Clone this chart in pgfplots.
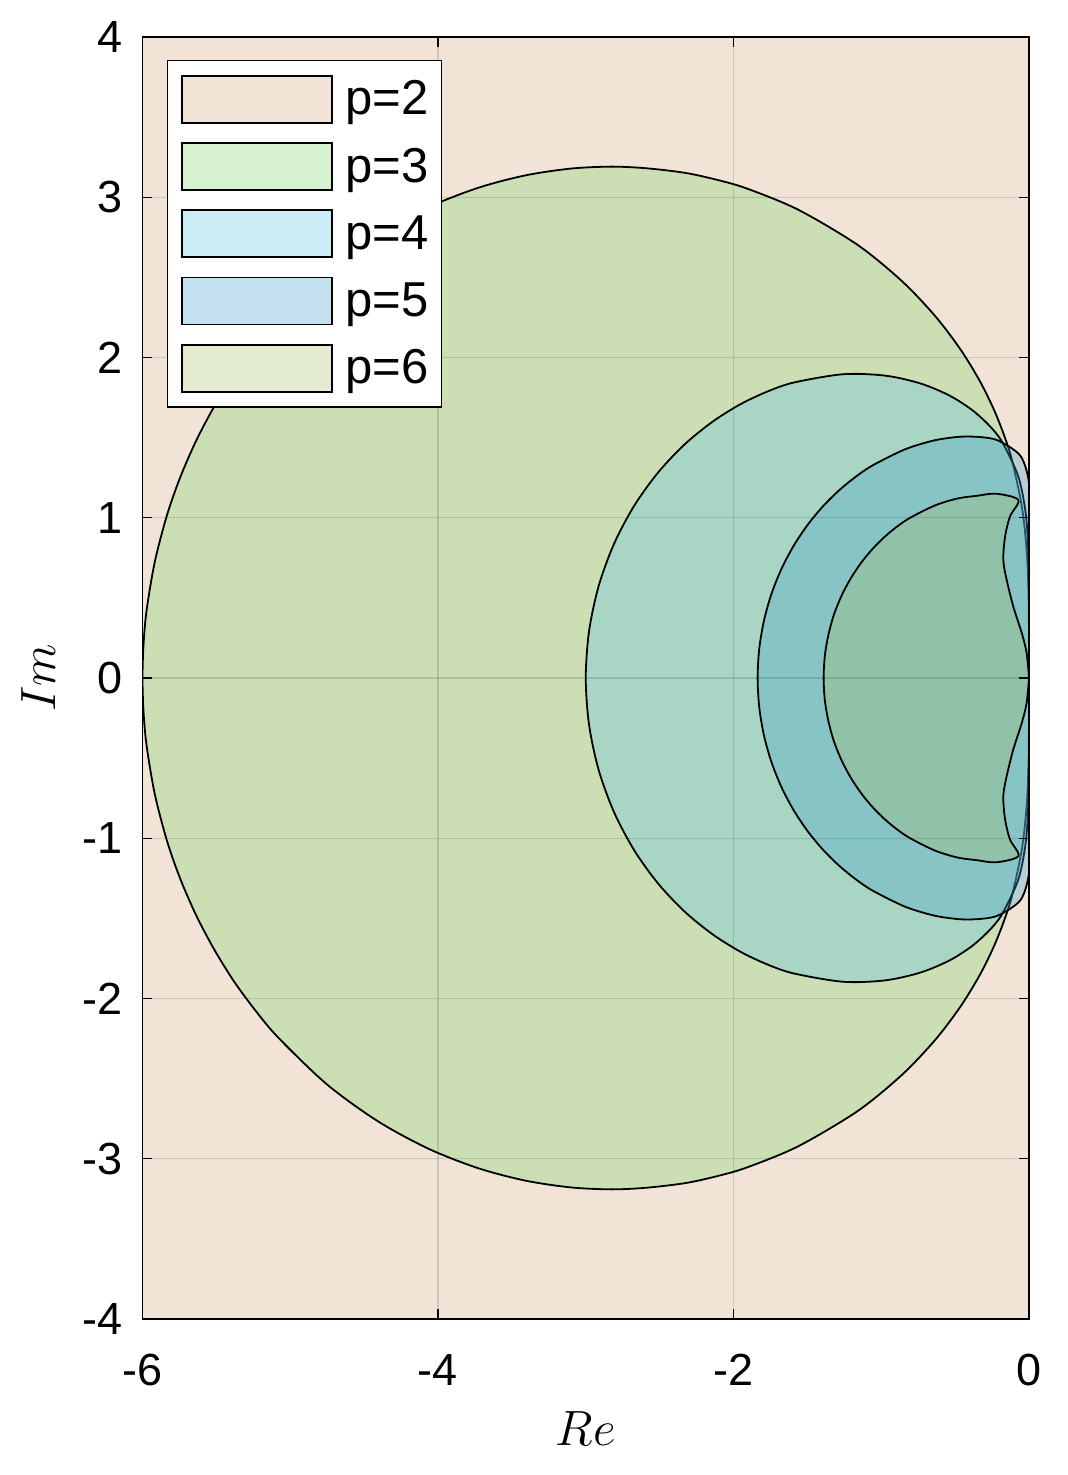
\documentclass[border=0pt]{standalone}
\usepackage{fontspec}
\setmainfont{Liberation Sans}
\usepackage{pgfplots}
\pgfplotsset{compat=1.18}
\definecolor{c2}{RGB}{241,228,215}
\definecolor{c3}{RGB}{121,210,101}
\definecolor{c4}{RGB}{88,195,233}
\definecolor{c5}{RGB}{60,158,205}
\definecolor{c6}{RGB}{165,190,105}
\begin{document}
\begin{tikzpicture}
\useasboundingbox (-71.25bp,-78bp) rectangle (462.75bp,659.5bp);
\begin{axis}[
  at={(0,0)}, anchor=south west,
  width=443.25bp, height=641bp, scale only axis,
  xmin=-6, xmax=0, ymin=-4, ymax=4,
  xtick={-6,-4,-2,0}, xticklabels={-6,-4,-2,0},
  ytick={-4,-3,-2,-1,0,1,2,3,4}, yticklabels={-4,-3,-2,-1,0,1,2,3,4},
  tick align=inside, major tick length=5bp,
  tick style={black, line width=0.6bp},
  grid=major, grid style={black, opacity=0.13, line width=0.6bp},
  axis on top,
  axis line style={black, line width=0.9bp},
  ticklabel style={font=\fontsize{22.5bp}{27bp}\selectfont},
  xticklabel style={anchor=north, inner sep=0pt, yshift=-17.5bp},
  yticklabel style={anchor=east, inner sep=0pt, xshift=-10bp},
  xlabel={$Re$}, ylabel={$Im$},
  label style={font=\fontsize{25bp}{30bp}\selectfont},
  xlabel style={at={(axis description cs:0.5,0)}, anchor=base, yshift=-63bp},
  ylabel style={at={(axis description cs:-0.0987,0.5)}, anchor=base},
  legend image code/.code={\draw[#1] (0bp,-11.75bp) rectangle (75bp,11.75bp);},
  legend cell align=left,
  legend style={at={(axis description cs:0,1)}, xshift=12.25bp, yshift=-11.5bp,
    anchor=north west, draw=black, line width=0.75bp, fill=white,
    inner xsep=6.5bp, inner ysep=7bp, row sep=9.25bp,
    font=\fontsize{24.5bp}{29bp}\selectfont,
    nodes={inner sep=0pt},
    /tikz/every odd column/.append style={column sep=6.5bp}},
]
% p = 2 : whole left half plane
\addplot[draw=black, line width=0.9bp, fill=c2] coordinates {(-6,-4) (0,-4) (0,4) (-6,4) (-6,-4)};
% p = 3
\addplot[draw=black, line width=0.9bp, fill=c3, fill opacity=0.3, smooth] coordinates {
(0,0) (-0.0002,0.2618) (-0.0031,0.5242) (-0.0152,0.7896) (-0.0472,1.0638) (-0.1144,1.3563) (-0.1680,1.5133) (-0.24,1.68) (-0.3360,1.8583) (-0.4633,2.0496) (-0.6322,2.2555) (-0.857,2.474) (-1.1583,2.7015) (-1.563,2.9227) (-1.908,3.054) (-2.1076,3.1079) (-2.326,3.152) (-2.5901,3.1809) (-2.825,3.191) (-3.1009,3.1789) (-3.411,3.136) (-3.7323,3.0577) (-4.068,2.936) (-4.411,2.7636) (-4.753,2.535) (-5.080,2.2452) (-5.2340,2.0770) (-5.381,1.893) (-5.5142,1.6949) (-5.636,1.4823) (-5.7428,1.2569) (-5.833,1.020) (-5.9171,0.72365) (-5.973,0.4171) (-5.9931,0.20921) (-6,0)
(-5.9931,-0.20921) (-5.973,-0.4171) (-5.9171,-0.72365) (-5.833,-1.020) (-5.7428,-1.2569) (-5.636,-1.4823) (-5.5142,-1.6949) (-5.381,-1.893) (-5.2340,-2.0770) (-5.080,-2.2452) (-4.753,-2.535) (-4.411,-2.7636) (-4.068,-2.936) (-3.7323,-3.0577) (-3.411,-3.136) (-3.1009,-3.1789) (-2.825,-3.191) (-2.5901,-3.1809) (-2.326,-3.152) (-2.1076,-3.1079) (-1.908,-3.054) (-1.563,-2.9227) (-1.1583,-2.7015) (-0.857,-2.474) (-0.6322,-2.2555) (-0.4633,-2.0496) (-0.3360,-1.8583) (-0.24,-1.68) (-0.1680,-1.5133) (-0.1144,-1.3563) (-0.0472,-1.0638) (-0.0152,-0.7896) (-0.0031,-0.5242) (-0.0002,-0.2618) (0,0)};
% p = 4
\addplot[draw=black, line width=0.9bp, fill=c4, fill opacity=0.3, smooth] coordinates {
(0,0) (-0.0001,0.2618) (-0.0004,0.5227) (-0.0043,0.7792) (-0.0219,1.0259) (-0.0728,1.2588) (-0.1846,1.4769) (-0.2738,1.5799) (-0.3916,1.677) (-0.5434,1.7650) (-0.7347,1.838) (-0.9710,1.8866) (-1.2557,1.8958) (-1.5876,1.8447) (-1.7682,1.7886) (-1.9552,1.7074) (-2.1441,1.5978) (-2.3319,1.4569) (-2.5098,1.2831) (-2.6711,1.0764) (-2.8078,0.8391) (-2.9122,0.5755) (-2.9776,0.2928) (-3,0)
(-2.9776,-0.2928) (-2.9122,-0.5755) (-2.8078,-0.8391) (-2.6711,-1.0764) (-2.5098,-1.2831) (-2.3319,-1.4569) (-2.1441,-1.5978) (-1.9552,-1.7074) (-1.7682,-1.7886) (-1.5876,-1.8447) (-1.2557,-1.8958) (-0.9710,-1.8866) (-0.7347,-1.838) (-0.5434,-1.7650) (-0.3916,-1.677) (-0.2738,-1.5799) (-0.1846,-1.4769) (-0.0728,-1.2588) (-0.0219,-1.0259) (-0.0043,-0.7792) (-0.0004,-0.5227) (-0.0001,-0.2618) (0,0)};
% p = 5
\addplot[draw=black, line width=0.9bp, fill=c5, fill opacity=0.3, smooth] coordinates {
(0,0) (0,0.2618) (0.0003,0.5234) (0.0023,0.782) (0.0059,1.0264) (-0.0027,1.2346) (-0.0589,1.3875) (-0.2048,1.4802) (-0.3202,1.5027) (-0.4657,1.5055) (-0.6402,1.4829) (-0.8403,1.4265) (-1.0589,1.3264) (-1.1715,1.2567) (-1.2837,1.1725) (-1.3930,1.0729) (-1.4966,0.9577) (-1.5916,0.8271) (-1.6749,0.6820) (-1.7434,0.5240) (-1.7945,0.3555) (-1.8261,0.1797) (-1.8367,0)
(-1.8261,-0.1797) (-1.7945,-0.3555) (-1.7434,-0.5240) (-1.6749,-0.6820) (-1.5916,-0.8271) (-1.4966,-0.9577) (-1.3930,-1.0729) (-1.2837,-1.1725) (-1.1715,-1.2567) (-1.0589,-1.3264) (-0.8403,-1.4265) (-0.6402,-1.4829) (-0.4657,-1.5055) (-0.3202,-1.5027) (-0.2048,-1.4802) (-0.0589,-1.3875) (-0.0027,-1.2346) (0.0059,-1.0264) (0.0023,-0.782) (0.0003,-0.5234) (0,-0.2618) (0,0)};
% p = 6
\addplot[draw=black, line width=0.9bp, fill=c6, fill opacity=0.3, smooth] coordinates {
(0,0) (-0.016,0.156) (-0.049,0.281) (-0.106,0.445) (-0.151,0.612) (-0.174,0.736) (-0.162,0.882) (-0.129,1.007) (-0.072,1.111) (-0.22,1.150) (-0.353,1.137) (-0.485,1.120) (-0.636,1.077) (-0.802,1.001) (-0.887,0.949) (-0.972,0.885) (-1.0545,0.810) (-1.133,0.723) (-1.205,0.624) (-1.268,0.515) (-1.320,0.396) (-1.358,0.268) (-1.382,0.136) (-1.390,0)
(-1.382,-0.136) (-1.358,-0.268) (-1.320,-0.396) (-1.268,-0.515) (-1.205,-0.624) (-1.133,-0.723) (-1.0545,-0.810) (-0.972,-0.885) (-0.887,-0.949) (-0.802,-1.001) (-0.636,-1.077) (-0.485,-1.120) (-0.353,-1.137) (-0.22,-1.150) (-0.072,-1.111) (-0.129,-1.007) (-0.162,-0.882) (-0.174,-0.736) (-0.151,-0.612) (-0.106,-0.445) (-0.049,-0.281) (-0.016,-0.156) (0,0)};
\legend{p=2,p=3,p=4,p=5,p=6}
\end{axis}
\end{tikzpicture}
\end{document}
